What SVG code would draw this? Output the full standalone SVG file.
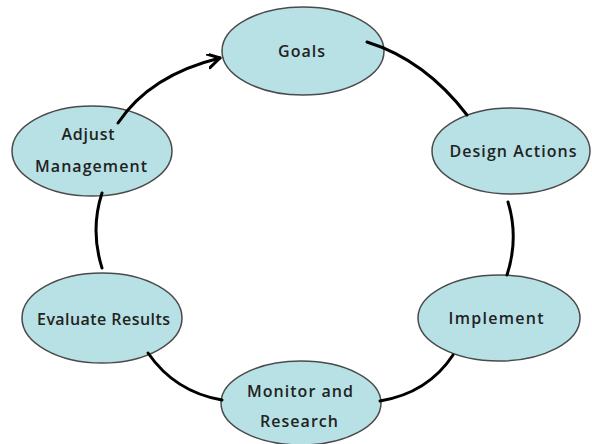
<svg xmlns="http://www.w3.org/2000/svg" width="592" height="444" viewBox="0 0 592 444">
<style>
.n{fill:#b8e1e5;stroke:#4a4a4a;stroke-width:1.5}
.t{font-family:"Open Sans","Liberation Sans",Arial,sans-serif;font-size:16px;font-weight:600;fill:#222;text-anchor:middle}
.c{fill:none;stroke:#000;stroke-width:3;stroke-linecap:round}
</style>
<defs>
<marker id="ah" markerWidth="16" markerHeight="16" refX="13" refY="7" orient="auto" markerUnits="userSpaceOnUse">
<path d="M1,0 L13,7 L1,14" fill="none" stroke="#000" stroke-width="3" stroke-linecap="round" stroke-linejoin="round"/>
</marker>
</defs>
<rect width="592" height="444" fill="#fff"/>
<g id="goals"><ellipse class="n" cx="303" cy="51" rx="81" ry="44"/><text class="t" x="301.5" y="57" textLength="47" lengthAdjust="spacing">Goals</text></g>
<g id="design"><ellipse class="n" cx="511" cy="151" rx="79" ry="43"/><text class="t" x="513" y="157" textLength="127" lengthAdjust="spacing">Design Actions</text></g>
<g id="implement"><ellipse class="n" cx="499" cy="318" rx="81" ry="43"/><text class="t" x="496" y="324" textLength="95" lengthAdjust="spacing">Implement</text></g>
<g id="monitor"><ellipse class="n" cx="301" cy="403" rx="80" ry="42"/><text class="t" x="300" y="397" textLength="106" lengthAdjust="spacing">Monitor and</text><text class="t" x="299" y="427" textLength="78" lengthAdjust="spacing">Research</text></g>
<g id="evaluate"><ellipse class="n" cx="102" cy="318" rx="80" ry="45"/><text class="t" x="103.5" y="325" textLength="133" lengthAdjust="spacing">Evaluate Results</text></g>
<g id="adjust"><ellipse class="n" cx="92" cy="151" rx="80" ry="45"/><text class="t" x="88" y="140" textLength="53" lengthAdjust="spacing">Adjust</text><text class="t" x="91" y="172" textLength="112" lengthAdjust="spacing">Management</text></g>
<g id="connectors">
<path class="c" d="M118,123 Q150,75 220,58" marker-end="url(#ah)"/>
<path class="c" d="M367,42 Q425,60 467,115"/>
<path class="c" d="M508,202 Q519,238 507,275"/>
<path class="c" d="M453,355 Q428,393 380,401"/>
<path class="c" d="M148,353 Q175,392 222,400"/>
<path class="c" d="M102,193 Q90,230 102,268"/>
</g>
</svg>
